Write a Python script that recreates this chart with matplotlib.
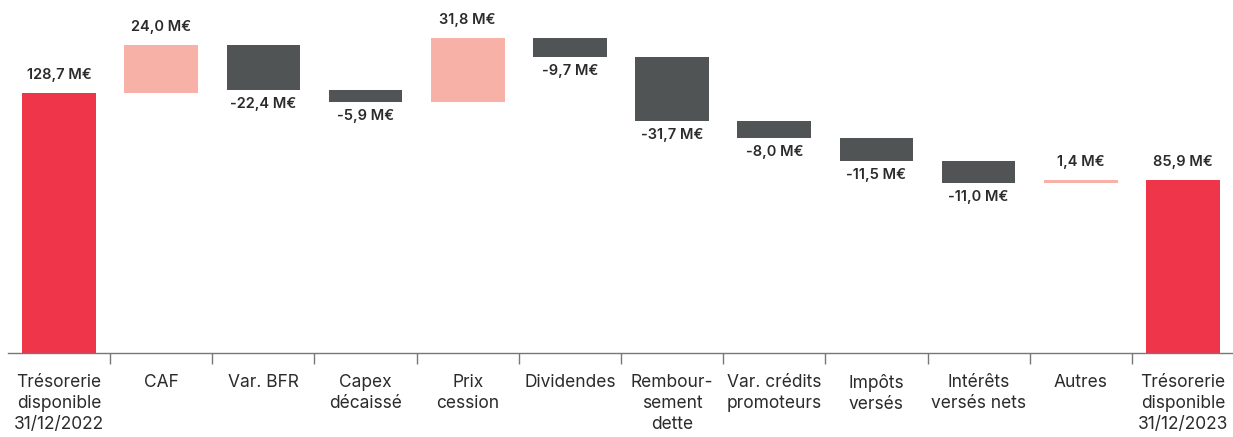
import matplotlib
matplotlib.use("Agg")
import matplotlib.pyplot as plt
import numpy as np

categories = ["Trésorerie\ndisponible\n31/12/2022", "CAF", "Var. BFR", "Capex\ndécaissé",
              "Prix\ncession", "Dividendes", "Rembour-\nsement\ndette", "Var. crédits\npromoteurs",
              "Impôts\nversés", "Intérêts\nversés nets", "Autres", "Trésorerie\ndisponible\n31/12/2023"]
start_value = 128.7
changes = [24.0, -22.4, -5.9, 31.8, -9.7, -31.7, -8.0, -11.5, -11.0, 1.4]
end_value = 85.9

RED = "#EE3549"
SALMON = "#F7B1A6"
DARK = "#515455"
TEXT = "#2b2b2b"

plt.rcParams['font.family'] = ['Inter', 'DejaVu Sans']

fig = plt.figure(figsize=(12.33, 4.37), dpi=100)
ax = fig.add_axes([8/1233, (437-353)/437, 1226/1233, 353/437])

def fmt(v):
    s = f"{v:.1f}".replace(".", ",")
    return f"{s} M€"

VFS = 10.5
VW = "semibold"
x = np.arange(len(categories))
w = 0.72
ax.bar(x[0], start_value, width=w, color=RED)
ax.annotate(fmt(start_value), (x[0], start_value), xytext=(0, 8), textcoords="offset points",
            ha="center", va="bottom", fontsize=VFS, fontweight=VW, color=TEXT)
level = start_value
for i, c in enumerate(changes, start=1):
    bottom = level if c >= 0 else level + c
    ax.bar(x[i], abs(c), bottom=bottom, width=w, color=SALMON if c >= 0 else DARK)
    if c >= 0:
        ax.annotate(fmt(c), (x[i], level + c), xytext=(0, 8), textcoords="offset points",
                    ha="center", va="bottom", fontsize=VFS, fontweight=VW, color=TEXT)
    else:
        ax.annotate(fmt(c), (x[i], level + c), xytext=(0, -5), textcoords="offset points",
                    ha="center", va="top", fontsize=VFS, fontweight=VW, color=TEXT)
    level += c
ax.bar(x[-1], end_value, width=w, color=RED)
ax.annotate(fmt(end_value), (x[-1], end_value), xytext=(0, 8), textcoords="offset points",
            ha="center", va="bottom", fontsize=VFS, fontweight=VW, color=TEXT)

ax.set_xlim(-0.5, len(categories) - 0.5)
ax.set_ylim(0, 175)
for s in ["top", "right", "left"]:
    ax.spines[s].set_visible(False)
ax.spines["bottom"].set_color("#777777")
ax.spines["bottom"].set_linewidth(1.0)
ax.set_yticks([])
ax.set_xticks(x)
ax.set_xticklabels(categories, fontsize=12.5, color=TEXT, linespacing=1.3)
ax.tick_params(axis="x", which="major", length=0, pad=15)
ax.set_xticks(np.arange(0.5, len(categories) - 1, 1.0), minor=True)
ax.tick_params(axis="x", which="minor", length=8, width=1, color="#777777", direction="out")

fig.savefig("out.png", dpi=100)
